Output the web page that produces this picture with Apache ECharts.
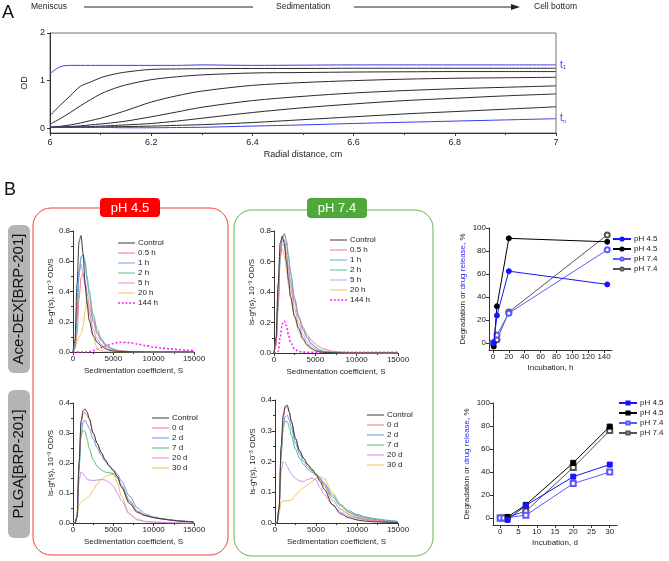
<!DOCTYPE html>
<html><head><meta charset="utf-8">
<script src="https://cdn.jsdelivr.net/npm/echarts@6/dist/echarts.min.js"></script>
<style>html,body{margin:0;padding:0;background:#fff}#c{width:669px;height:561px}</style>
</head><body><div id="c"></div>
<script>
const FONT = 'Arial, "Liberation Sans", sans-serif';

// ---------- Panel A: absorbance scans ----------
const radialX = [6.0, 6.02, 6.04, 6.06, 6.08, 6.1, 6.12, 6.15, 6.2, 6.25, 6.3, 6.4, 6.5, 6.6, 6.7, 6.8, 6.9, 7.0];
const odFirst = [1.15, 1.29, 1.32, 1.32, 1.32, 1.32, 1.32, 1.32, 1.32, 1.32, 1.33, 1.32, 1.325, 1.33, 1.33, 1.33, 1.33, 1.33];
const odMiddle = [
  [0.27, 0.48, 0.68, 0.88, 0.97, 1.06, 1.12, 1.18, 1.235, 1.245, 1.25, 1.255, 1.255, 1.26, 1.26, 1.26, 1.26, 1.26],
  [0.085, 0.2, 0.33, 0.47, 0.6, 0.72, 0.81, 0.91, 1.02, 1.08, 1.12, 1.16, 1.17, 1.18, 1.185, 1.19, 1.19, 1.19],
  [0.02, 0.04, 0.07, 0.11, 0.16, 0.21, 0.27, 0.37, 0.55, 0.68, 0.78, 0.9, 0.96, 1.0, 1.03, 1.05, 1.06, 1.07],
  [0.02, 0.025, 0.035, 0.05, 0.07, 0.09, 0.11, 0.15, 0.24, 0.34, 0.44, 0.58, 0.67, 0.74, 0.79, 0.83, 0.86, 0.89],
  [0.02, 0.02, 0.025, 0.03, 0.035, 0.045, 0.055, 0.07, 0.1, 0.15, 0.21, 0.33, 0.43, 0.51, 0.58, 0.63, 0.68, 0.72],
  [0.02, 0.02, 0.02, 0.02, 0.02, 0.025, 0.03, 0.035, 0.045, 0.06, 0.075, 0.12, 0.18, 0.24, 0.3, 0.35, 0.4, 0.45]
];
const odLast = [0.02, 0.02, 0.02, 0.02, 0.02, 0.02, 0.015, 0.01, 0.01, 0.015, 0.02, 0.045, 0.07, 0.1, 0.125, 0.15, 0.175, 0.2];

// ---------- Panel B: ls-g*(s) distributions ----------
const sedS = [0, 250, 500, 750, 1000, 1250, 1500, 1750, 2000, 2500, 3000, 3500, 4000, 4500, 5000, 5500, 6000, 7000, 8000, 9000, 10000, 11000, 12000, 13000, 14000, 15000];
const aceTimes = ['Control', '0.5 h', '1 h', '2 h', '5 h', '20 h', '144 h'];
const plgaTimes = ['Control', '0 d', '2 d', '7 d', '20 d', '30 d'];

const aceAcid = [
  [0, 0.08, 0.45, 0.73, 0.77, 0.65, 0.45, 0.32, 0.21, 0.11, 0.065, 0.04, 0.022, 0.012, 0.006, 0.004, 0.003, 0.002, 0.001, 0, 0, 0, 0, 0, 0, 0],
  [0, 0.02, 0.12, 0.35, 0.49, 0.52, 0.47, 0.39, 0.32, 0.2, 0.12, 0.075, 0.045, 0.028, 0.017, 0.01, 0.006, 0.003, 0.001, 0, 0, 0, 0, 0, 0, 0],
  [0, 0.04, 0.25, 0.52, 0.63, 0.64, 0.57, 0.47, 0.38, 0.22, 0.13, 0.08, 0.05, 0.03, 0.018, 0.01, 0.006, 0.003, 0.001, 0, 0, 0, 0, 0, 0, 0],
  [0, 0.03, 0.22, 0.5, 0.62, 0.645, 0.6, 0.5, 0.41, 0.25, 0.15, 0.09, 0.055, 0.033, 0.02, 0.012, 0.007, 0.003, 0.001, 0, 0, 0, 0, 0, 0, 0],
  [0, 0.05, 0.32, 0.54, 0.58, 0.52, 0.43, 0.34, 0.26, 0.15, 0.085, 0.05, 0.03, 0.018, 0.01, 0.006, 0.004, 0.002, 0.001, 0, 0, 0, 0, 0, 0, 0],
  [0, 0.03, 0.07, 0.1, 0.12, 0.17, 0.27, 0.34, 0.29, 0.1, 0.02, 0.008, 0.004, 0.002, 0.001, 0.001, 0, 0, 0, 0, 0, 0, 0, 0, 0, 0],
  [0, 0, 0, 0, 0, 0, 0, 0.001, 0.002, 0.008, 0.018, 0.028, 0.038, 0.048, 0.056, 0.062, 0.064, 0.062, 0.053, 0.043, 0.033, 0.026, 0.021, 0.016, 0.012, 0.009]
];
const aceNeutral = [
  [0, 0.1, 0.45, 0.72, 0.767, 0.72, 0.6, 0.48, 0.37, 0.24, 0.16, 0.095, 0.055, 0.03, 0.015, 0.008, 0.004, 0.002, 0.001, 0, 0, 0, 0, 0, 0, 0],
  [0, 0.05, 0.35, 0.65, 0.75, 0.74, 0.66, 0.56, 0.47, 0.33, 0.24, 0.17, 0.12, 0.085, 0.06, 0.04, 0.027, 0.012, 0.006, 0.004, 0.003, 0.002, 0.002, 0.001, 0.001, 0.001],
  [0, 0.05, 0.3, 0.62, 0.76, 0.785, 0.74, 0.64, 0.53, 0.36, 0.24, 0.16, 0.105, 0.065, 0.04, 0.022, 0.012, 0.005, 0.002, 0.001, 0, 0, 0, 0, 0, 0],
  [0, 0.05, 0.3, 0.62, 0.76, 0.78, 0.73, 0.63, 0.52, 0.35, 0.23, 0.15, 0.1, 0.06, 0.037, 0.02, 0.011, 0.004, 0.002, 0.001, 0, 0, 0, 0, 0, 0],
  [0, 0.07, 0.4, 0.66, 0.72, 0.7, 0.62, 0.52, 0.43, 0.29, 0.19, 0.12, 0.075, 0.045, 0.027, 0.015, 0.008, 0.003, 0.001, 0, 0, 0, 0, 0, 0, 0],
  [0, 0.08, 0.45, 0.65, 0.68, 0.64, 0.55, 0.45, 0.36, 0.23, 0.14, 0.085, 0.05, 0.03, 0.017, 0.009, 0.005, 0.002, 0.001, 0, 0, 0, 0, 0, 0, 0],
  [0, 0, 0.01, 0.1, 0.19, 0.21, 0.18, 0.12, 0.07, 0.025, 0.01, 0.006, 0.005, 0.005, 0.005, 0.005, 0.005, 0.005, 0.005, 0.005, 0.005, 0.005, 0.005, 0.005, 0.005, 0.005]
];
const plgaAcid = [
  [0, 0, 0.02, 0.2, 0.34, 0.375, 0.38, 0.37, 0.35, 0.3, 0.265, 0.235, 0.21, 0.19, 0.175, 0.155, 0.12, 0.065, 0.035, 0.024, 0.018, 0.014, 0.01, 0.007, 0.005, 0.003],
  [0, 0, 0.02, 0.2, 0.33, 0.365, 0.37, 0.36, 0.345, 0.3, 0.265, 0.235, 0.21, 0.19, 0.175, 0.155, 0.125, 0.07, 0.038, 0.025, 0.018, 0.014, 0.01, 0.007, 0.005, 0.003],
  [0, 0, 0.02, 0.18, 0.3, 0.335, 0.343, 0.33, 0.315, 0.28, 0.25, 0.225, 0.205, 0.19, 0.178, 0.163, 0.14, 0.09, 0.05, 0.03, 0.02, 0.015, 0.011, 0.008, 0.006, 0.004],
  [0, 0, 0.02, 0.18, 0.29, 0.31, 0.305, 0.28, 0.25, 0.21, 0.19, 0.177, 0.17, 0.167, 0.165, 0.15, 0.125, 0.075, 0.04, 0.025, 0.018, 0.013, 0.01, 0.007, 0.005, 0.003],
  [0, 0, 0.02, 0.14, 0.17, 0.165, 0.155, 0.146, 0.143, 0.142, 0.143, 0.145, 0.143, 0.135, 0.122, 0.1, 0.075, 0.03, 0.01, 0.005, 0.003, 0.002, 0.001, 0.001, 0, 0],
  [0, 0, 0.02, 0.06, 0.07, 0.075, 0.08, 0.085, 0.09, 0.11, 0.13, 0.145, 0.155, 0.16, 0.162, 0.135, 0.09, 0.03, 0.012, 0.005, 0.003, 0.002, 0.001, 0, 0, 0]
];
const plgaNeutral = [
  [0, 0, 0.05, 0.25, 0.35, 0.38, 0.383, 0.36, 0.33, 0.275, 0.235, 0.21, 0.19, 0.175, 0.158, 0.135, 0.11, 0.06, 0.03, 0.017, 0.01, 0.006, 0.004, 0.003, 0.002, 0.001],
  [0, 0, 0.05, 0.24, 0.34, 0.375, 0.378, 0.36, 0.33, 0.275, 0.235, 0.21, 0.19, 0.175, 0.16, 0.14, 0.12, 0.075, 0.045, 0.028, 0.018, 0.012, 0.008, 0.006, 0.004, 0.003],
  [0, 0, 0.05, 0.23, 0.32, 0.345, 0.35, 0.335, 0.31, 0.26, 0.225, 0.2, 0.183, 0.17, 0.16, 0.147, 0.13, 0.092, 0.06, 0.04, 0.028, 0.02, 0.015, 0.011, 0.008, 0.005],
  [0, 0, 0.05, 0.22, 0.31, 0.33, 0.33, 0.31, 0.285, 0.24, 0.21, 0.19, 0.175, 0.165, 0.155, 0.142, 0.125, 0.085, 0.055, 0.035, 0.024, 0.017, 0.012, 0.009, 0.006, 0.004],
  [0, 0, 0.04, 0.17, 0.2, 0.195, 0.185, 0.17, 0.16, 0.145, 0.137, 0.135, 0.142, 0.146, 0.14, 0.115, 0.092, 0.06, 0.035, 0.022, 0.015, 0.01, 0.007, 0.005, 0.003, 0.002],
  [0, 0, 0.03, 0.068, 0.072, 0.072, 0.072, 0.073, 0.075, 0.09, 0.105, 0.115, 0.125, 0.135, 0.145, 0.15, 0.145, 0.1, 0.06, 0.035, 0.022, 0.015, 0.01, 0.007, 0.005, 0.003]
];

// ---------- Panel B right: degradation / drug release ----------
const degSeriesNames = ['pH 4.5', 'pH 4.5', 'pH 7.4', 'pH 7.4'];
const aceHours = [
  [[1, 0], [5, 24], [20, 62.5], [144, 51]],
  [[1, -3], [5, 32], [20, 91], [144, 88]],
  [[0, 0], [5, 7], [20, 26], [144, 81]],
  [[0, 0], [5, 3], [20, 27], [144, 94]]
];
const plgaDays = [
  [[2, -1.5], [7, 11], [20, 36], [30, 46.5]],
  [[2, 1], [7, 11.5], [20, 48], [30, 79.5]],
  [[0, 0], [1, 0], [7, 2.5], [20, 30], [30, 40]],
  [[0, 0], [1, 0], [7, 6], [20, 44], [30, 76]]
];
const hourTicks = [0, 20, 40, 60, 80, 100, 120, 140];
const dayTicks = [0, 5, 10, 15, 20, 25, 30];
const pctTicks = [0, 20, 40, 60, 80, 100];
const odTicks = [0, 1, 2];

// ---------- styles ----------
const aceColors = ['#3a3a3a', '#f27b7b', '#6fa6e6', '#5cc28f', '#c99aec', '#efc15e', '#ff22ff'];
const plgaColors = ['#3a3a3a', '#f27b7b', '#5f97ea', '#4fb878', '#c78de8', '#efc25a'];
const degColors = ['#1515ff', '#000000', '#5a5aff', '#555555'];

const zip = (xs, ys) => xs.map((x, i) => [x, ys[i]]);
const LBL = { fontSize: 8, color: '#222', fontFamily: FONT };
const LBLA = { fontSize: 9, color: '#222', fontFamily: FONT };

function xAx(grid, o) {
  return Object.assign({
    gridIndex: grid, type: 'value', nameLocation: 'middle',
    nameTextStyle: Object.assign({}, LBL),
    axisLine: { show: true, onZero: false, lineStyle: { color: '#333', width: 1 } },
    axisTick: { show: true, length: 3, lineStyle: { color: '#333' } },
    minorTick: { show: true, splitNumber: 2, length: 2, lineStyle: { color: '#333' } },
    splitLine: { show: false },
    axisLabel: Object.assign({ margin: 3 }, LBL)
  }, o);
}
const yAx = xAx;

const grids = [
  { left: 50, top: 33, width: 506, height: 100, show: true, borderColor: '#777', borderWidth: 1 },
  { left: 73, top: 231, width: 121, height: 121 },
  { left: 274, top: 231, width: 124, height: 122 },
  { left: 73, top: 403, width: 121, height: 120 },
  { left: 275, top: 400, width: 123, height: 123 },
  { left: 489, top: 228, width: 123, height: 122 },
  { left: 493, top: 403, width: 124, height: 122 }
];

const sedFmt = v => String(v);
const sedX = i => xAx(i, { min: 0, max: 15000, interval: 5000, name: 'Sedimentation coefficient, S', nameGap: 15,
  axisLabel: Object.assign({ margin: 3, formatter: sedFmt }, LBL) });
const xAxes = [
  xAx(0, { min: 6, max: 7, interval: 0.2, name: 'Radial distance, cm', nameGap: 17, nameTextStyle: LBLA,
    axisLabel: Object.assign({ margin: 5 }, LBLA) }),
  sedX(1), sedX(2), sedX(3), sedX(4),
  xAx(5, { min: -5, max: 150, name: 'Incubation, h', nameGap: 14, minorTick: { show: false },
    axisTick: { show: true, length: 3, customValues: hourTicks, lineStyle: { color: '#333' } },
    axisLabel: Object.assign({ margin: 3, customValues: hourTicks }, LBL) }),
  xAx(6, { min: -2, max: 32, name: 'Incubation, d', nameGap: 14, minorTick: { show: false },
    axisTick: { show: true, length: 3, customValues: dayTicks, lineStyle: { color: '#333' } },
    axisLabel: Object.assign({ margin: 3, customValues: dayTicks }, LBL) })
];

const lsName = 'ls-g*(s), 10⁻³ OD/S';
const degName = '{a|Degradation or }{b|drug release}{a|, %}';
const degNameStyle = Object.assign({}, LBL, { rich: { a: Object.assign({}, LBL), b: Object.assign({}, LBL, { color: '#2a2aff' }) } });
const f1 = v => v.toFixed(1);
const lsY = (i, max, step) => yAx(i, { min: 0, max: max, interval: step, name: lsName, nameGap: 18,
  axisLabel: Object.assign({ margin: 3, formatter: f1 }, LBL) });
const degY = i => yAx(i, { min: -6, max: 100, name: degName, nameGap: 22, nameTextStyle: degNameStyle, minorTick: { show: false },
  axisTick: { show: true, length: 3, customValues: pctTicks, lineStyle: { color: '#333' } },
  axisLabel: Object.assign({ margin: 3, customValues: pctTicks }, LBL) });
const yAxes = [
  yAx(0, { min: -0.1, max: 2, name: 'OD', nameGap: 17, nameTextStyle: LBLA, minorTick: { show: false },
    axisTick: { show: true, length: 3, customValues: odTicks, lineStyle: { color: '#333' } },
    axisLabel: Object.assign({ margin: 5, customValues: odTicks }, LBLA) }),
  lsY(1, 0.8, 0.2), lsY(2, 0.8, 0.2), lsY(3, 0.4, 0.1), lsY(4, 0.4, 0.1),
  degY(5), degY(6)
];

const series = [];
// Panel A
const tLabel = sub => ({ show: true, distance: 4, formatter: 't{s|' + sub + '}', color: '#3b3bf0', fontSize: 10, fontFamily: FONT,
  rich: { s: { fontSize: 6, color: '#3b3bf0', fontFamily: FONT, verticalAlign: 'bottom', padding: [5, 0, 0, 0] } } });
series.push({ type: 'line', name: 'A-first', xAxisIndex: 0, yAxisIndex: 0, data: zip(radialX, odFirst), symbol: 'none', smooth: 0.3,
  lineStyle: { color: '#3b3bf0', width: 1 }, itemStyle: { color: '#3b3bf0' }, endLabel: tLabel('1') });
odMiddle.forEach((row, i) => series.push({ type: 'line', name: 'A-' + i, xAxisIndex: 0, yAxisIndex: 0, data: zip(radialX, row), symbol: 'none', smooth: 0.3,
  lineStyle: { color: '#2a2a2a', width: 1 } }));
series.push({ type: 'line', name: 'A-last', xAxisIndex: 0, yAxisIndex: 0, data: zip(radialX, odLast), symbol: 'none', smooth: 0.3,
  lineStyle: { color: '#3b3bf0', width: 1 }, itemStyle: { color: '#3b3bf0' }, endLabel: tLabel('n') });

function distSeries(rows, names, colors, idx) {
  rows.forEach((row, i) => {
    const dotted = names[i] === '144 h';
    series.push({ type: 'line', name: names[i] + '#' + idx, xAxisIndex: idx, yAxisIndex: idx,
      data: zip(sedS, row), symbol: 'none', smooth: 0.3, smoothMonotone: 'x',
      lineStyle: { color: colors[i], width: dotted ? 1.6 : 1, type: dotted ? [2, 2] : 'solid' },
      itemStyle: { color: colors[i] }, z: 10 - i });
  });
}
distSeries(aceAcid, aceTimes, aceColors, 1);
distSeries(aceNeutral, aceTimes, aceColors, 2);
distSeries(plgaAcid, plgaTimes, plgaColors, 3);
distSeries(plgaNeutral, plgaTimes, plgaColors, 4);

function degSeries(sets, idx, shape) {
  sets.forEach((pts, i) => {
    const open = i >= 2;
    series.push({ type: 'line', name: degSeriesNames[i] + '#' + idx + '_' + i, xAxisIndex: idx, yAxisIndex: idx,
      data: pts, symbol: open ? 'empty' + shape : shape.toLowerCase(), symbolSize: 5, showSymbol: true,
      lineStyle: { color: degColors[i], width: 1 }, itemStyle: { color: degColors[i], borderColor: degColors[i], borderWidth: 1 }, z: 10 - i });
  });
}
degSeries(aceHours, 5, 'Circle');
degSeries(plgaDays, 6, 'Rect');

// legend icons: thin solid line, dotted line
const SOLID_ICON = 'path://M0 0h0.5v0.01h-0.5zM0 1h17v1h-17zM0 2.99h0.5v0.01h-0.5z';
const DOT_ICON = 'path://M0 0h0.5v0.01h-0.5zM0 0.75h2v1.5h-2zM3.75 0.75h2v1.5h-2zM7.5 0.75h2v1.5h-2zM11.25 0.75h2v1.5h-2zM15 0.75h2v1.5h-2zM0 2.99h0.5v0.01h-0.5z';
const strip = n => n.replace(/#.*$/, '');
const LTEXT = { fontSize: 8, color: '#222', fontFamily: FONT, lineHeight: 10, padding: [0, 0, 0, -2] };
function lineLegend(names, idx, left, top) {
  return { data: names.map(n => ({ name: n + '#' + idx, icon: n === '144 h' ? DOT_ICON : SOLID_ICON })),
    left: left, top: top, orient: 'vertical', itemGap: 0, itemWidth: 17, itemHeight: 3,
    selectedMode: false, formatter: strip, padding: 0, textStyle: LTEXT };
}
function markLegend(idx, left, top) {
  return { data: degSeriesNames.map((n, i) => n + '#' + idx + '_' + i), left: left, top: top, orient: 'vertical',
    itemGap: 0, itemWidth: 18, itemHeight: 4, selectedMode: false, formatter: strip, padding: 0, textStyle: LTEXT };
}
const legends = [
  lineLegend(aceTimes, 1, 118, 238),
  lineLegend(aceTimes, 2, 330, 235),
  lineLegend(plgaTimes, 3, 152, 413),
  lineLegend(plgaTimes, 4, 367, 410),
  markLegend(5, 612, 234),
  markLegend(6, 618, 398)
];

const TXT = (x, y, text, o) => ({ type: 'text', x: x, y: y, style: Object.assign({ text: text, fill: '#222', font: '8.5px ' + FONT, verticalAlign: 'middle' }, o || {}), silent: true });
const graphic = [
  TXT(2, 13, 'A', { font: '18px ' + FONT, fill: '#111' }),
  TXT(31, 7, 'Meniscus'),
  { type: 'line', shape: { x1: 84, y1: 7, x2: 253, y2: 7 }, style: { stroke: '#222', lineWidth: 1 } },
  TXT(276, 7, 'Sedimentation'),
  { type: 'line', shape: { x1: 354, y1: 7, x2: 514, y2: 7 }, style: { stroke: '#222', lineWidth: 1 } },
  { type: 'polygon', shape: { points: [[511, 4], [520, 7], [511, 10]] }, style: { fill: '#222' } },
  TXT(534, 7, 'Cell bottom'),
  TXT(4, 190, 'B', { font: '18px ' + FONT, fill: '#111' }),
  { type: 'rect', shape: { x: 33, y: 208, width: 195, height: 347, r: 18 }, style: { fill: 'none', stroke: '#ff3a3a', lineWidth: 1 }, z: -1 },
  { type: 'rect', shape: { x: 234, y: 210, width: 199, height: 346, r: 18 }, style: { fill: 'none', stroke: '#62b548', lineWidth: 1 }, z: -1 },
  { type: 'rect', shape: { x: 100, y: 198, width: 60, height: 19, r: 4 }, style: { fill: '#ff0000' } },
  { type: 'text', x: 130, y: 208, style: { text: 'pH 4.5', fill: '#fff', font: '13px ' + FONT, align: 'center', verticalAlign: 'middle' } },
  { type: 'rect', shape: { x: 307, y: 198, width: 60, height: 20, r: 4 }, style: { fill: '#4fa83a' } },
  { type: 'text', x: 337, y: 208, style: { text: 'pH 7.4', fill: '#fff', font: '13px ' + FONT, align: 'center', verticalAlign: 'middle' } },
  { type: 'rect', shape: { x: 8, y: 225, width: 22, height: 148, r: 6 }, style: { fill: '#b5b5b5' } },
  { type: 'text', x: 19, y: 299, rotation: Math.PI / 2, style: { text: 'Ace-DEX[BRP-201]', fill: '#111', font: '15px ' + FONT, align: 'center', verticalAlign: 'middle' } },
  { type: 'rect', shape: { x: 8, y: 390, width: 22, height: 148, r: 6 }, style: { fill: '#b5b5b5' } },
  { type: 'text', x: 19, y: 464, rotation: Math.PI / 2, style: { text: 'PLGA[BRP-201]', fill: '#111', font: '15px ' + FONT, align: 'center', verticalAlign: 'middle' } }
];

const chart = echarts.init(document.getElementById('c'));
chart.setOption({
  animation: false,
  backgroundColor: '#fff',
  textStyle: { fontFamily: FONT },
  grid: grids, xAxis: xAxes, yAxis: yAxes, series: series, legend: legends, graphic: graphic
});
</script></body></html>
